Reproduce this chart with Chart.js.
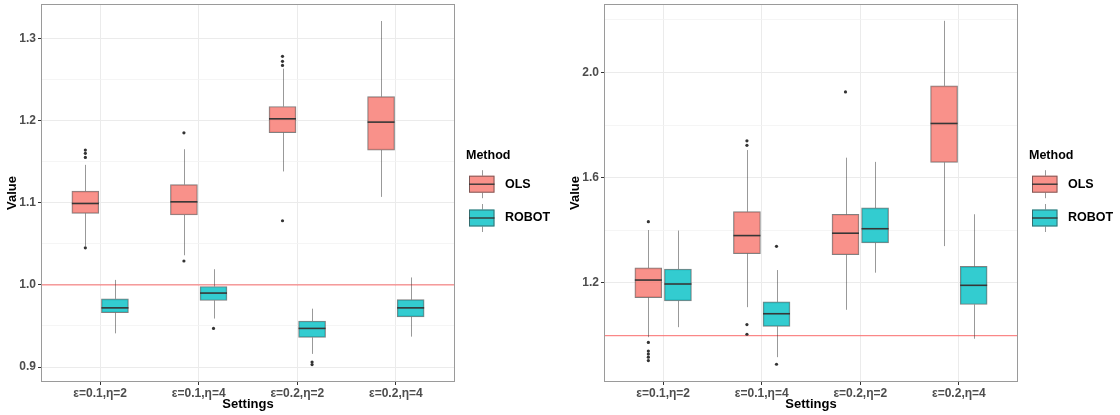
<!DOCTYPE html>
<html><head><meta charset="utf-8">
<script src="https://cdn.jsdelivr.net/npm/chart.js@4.4.1/dist/chart.umd.min.js"></script>
<style>
html,body{margin:0;padding:0;background:#fff;width:1120px;height:415px;overflow:hidden}
.wrap{position:absolute;top:0;height:415px}
canvas{display:block}
</style></head><body>
<div class="wrap" style="left:0;width:560px"><canvas id="c1" width="560" height="415"></canvas></div>
<div class="wrap" style="left:563px;width:557px"><canvas id="c2" width="557" height="415"></canvas></div>
<script>
// ---------- data ----------
const categories = ['ε=0.1,η=2', 'ε=0.1,η=4', 'ε=0.2,η=2', 'ε=0.2,η=4'];
const methods = ['OLS', 'ROBOT'];
const legendTitle = 'Method';
const xTitle = 'Settings';
const yTitle = 'Value';
const referenceValue = 1.0;

// left panel
const leftOLSLow    = [1.047, 1.036, 1.138, 1.107];
const leftOLSQ1     = [1.087, 1.085, 1.185, 1.164];
const leftOLSMedian = [1.099, 1.101, 1.202, 1.198];
const leftOLSQ3     = [1.114, 1.122, 1.217, 1.229];
const leftOLSHigh   = [1.146, 1.165, 1.263, 1.321];
const leftOLSOutliers = [[1.164, 1.160, 1.155, 1.045], [1.185, 1.029], [1.278, 1.272, 1.267, 1.078], []];

const leftROBOTLow    = [0.941, 0.959, 0.916, 0.937];
const leftROBOTQ1     = [0.966, 0.981, 0.936, 0.961];
const leftROBOTMedian = [0.972, 0.990, 0.947, 0.972];
const leftROBOTQ3     = [0.983, 0.998, 0.956, 0.982];
const leftROBOTHigh   = [1.006, 1.019, 0.971, 1.009];
const leftROBOTOutliers = [[], [0.947], [0.906, 0.903], []];

const leftYMin = 0.8818, leftYMax = 1.3417;
const leftMajorTicks = [0.9, 1.0, 1.1, 1.2, 1.3];
const leftMinorTicks = [0.95, 1.05, 1.15, 1.25];

// right panel
const rightOLSLow    = [0.994, 1.108, 1.098, 1.340];
const rightOLSQ1     = [1.144, 1.311, 1.307, 1.658];
const rightOLSMedian = [1.211, 1.380, 1.389, 1.806];
const rightOLSQ3     = [1.257, 1.471, 1.461, 1.949];
const rightOLSHigh   = [1.401, 1.705, 1.676, 2.196];
const rightOLSOutliers = [[1.433, 0.974, 0.941, 0.930, 0.918, 0.905], [1.740, 1.723, 1.042, 1.005], [1.926], []];

const rightROBOTLow    = [1.032, 0.918, 1.239, 0.988];
const rightROBOTQ1     = [1.132, 1.035, 1.352, 1.118];
const rightROBOTMedian = [1.196, 1.083, 1.406, 1.191];
const rightROBOTQ3     = [1.253, 1.128, 1.485, 1.263];
const rightROBOTHigh   = [1.399, 1.249, 1.660, 1.461];
const rightROBOTOutliers = [[], [1.339, 0.891], [], []];

const rightYMin = 0.8236, rightYMax = 2.260;
const rightMajorTicks = [1.2, 1.6, 2.0];
const rightMinorTicks = [1.0, 1.4, 1.8, 2.2];

// ---------- styles ----------
const FONT = "'Liberation Sans', Arial, sans-serif";
const fills = ['rgba(248,118,109,0.8)', 'rgba(0,191,196,0.8)'];
const boxBorder = 'rgba(51,51,51,0.62)';
const whiskerColor = 'rgba(51,51,51,0.5)';
const medianColor = '#363636';
const dodge = [-0.15, 0.15];
const AREA_LEFT = 41, AREA_RIGHT = 455, AREA_TOP = 2, X_AXIS_H = 33;

function isIn(arr, v) { return arr.some(a => Math.abs(a - v) < 1e-6); }

const extrasPlugin = {
  id: 'boxExtras',
  beforeDatasetsDraw(chart) {
    const { ctx, chartArea: ca, scales: { x, y } } = chart;
    ctx.save();
    // reference line
    const ry = y.getPixelForValue(referenceValue);
    ctx.strokeStyle = 'rgba(255,0,0,0.45)';
    ctx.lineWidth = 1.3;
    ctx.beginPath(); ctx.moveTo(ca.left, ry); ctx.lineTo(ca.right, ry); ctx.stroke();
    // whiskers
    ctx.strokeStyle = whiskerColor;
    ctx.lineWidth = 1;
    chart.data.datasets.forEach((ds, di) => {
      if (!ds.stats) return;
      const meta = chart.getDatasetMeta(di);
      meta.data.forEach((bar, i) => {
        const cx = Math.round(bar.x) + 0.5;
        ctx.beginPath();
        ctx.moveTo(cx, y.getPixelForValue(ds.stats.high[i]));
        ctx.lineTo(cx, y.getPixelForValue(ds.stats.q3[i]));
        ctx.moveTo(cx, y.getPixelForValue(ds.stats.q1[i]));
        ctx.lineTo(cx, y.getPixelForValue(ds.stats.low[i]));
        ctx.stroke();
      });
    });
    ctx.restore();
  },
  afterDatasetsDraw(chart) {
    const { ctx, scales: { y } } = chart;
    ctx.save();
    ctx.strokeStyle = medianColor;
    ctx.lineWidth = 1.6;
    chart.data.datasets.forEach((ds, di) => {
      if (!ds.stats) return;
      const meta = chart.getDatasetMeta(di);
      meta.data.forEach((bar, i) => {
        const my = y.getPixelForValue(ds.stats.median[i]);
        ctx.beginPath();
        ctx.moveTo(bar.x - bar.width / 2, my);
        ctx.lineTo(bar.x + bar.width / 2, my);
        ctx.stroke();
      });
    });
    ctx.restore();
  },
  afterDraw(chart) {
    const { ctx, chartArea: ca } = chart;
    ctx.save();
    // panel border
    ctx.strokeStyle = '#9a9a9a';
    ctx.lineWidth = 1;
    ctx.strokeRect(Math.round(ca.left) + 0.5, Math.round(ca.top) + 0.5,
                   Math.round(ca.right - ca.left) - 1, Math.round(ca.bottom - ca.top) - 1);
    // legend
    const lx = ca.right;
    ctx.fillStyle = '#000';
    ctx.textBaseline = 'middle';
    ctx.textAlign = 'left';
    ctx.font = 'bold 12.5px ' + FONT;
    ctx.fillText(legendTitle, lx + 11, 156);
    const keyTops = [175.7, 209.5];
    methods.forEach((m, k) => {
      const top = keyTops[k], h = 17, bx = lx + 14, bw = 25.5;
      const cx = Math.round(bx + bw / 2) + 0.5;
      ctx.strokeStyle = whiskerColor;
      ctx.lineWidth = 1;
      ctx.beginPath();
      ctx.moveTo(cx, top - 5.5); ctx.lineTo(cx, top);
      ctx.moveTo(cx, top + h); ctx.lineTo(cx, top + h + 5.5);
      ctx.stroke();
      ctx.fillStyle = fills[k];
      ctx.fillRect(bx, top, bw, h);
      ctx.strokeStyle = boxBorder;
      ctx.strokeRect(bx + 0.5, top + 0.5, bw - 1, h - 1);
      ctx.strokeStyle = medianColor;
      ctx.lineWidth = 1.4;
      ctx.beginPath(); ctx.moveTo(bx, top + h / 2); ctx.lineTo(bx + bw, top + h / 2); ctx.stroke();
      ctx.fillStyle = '#000';
      ctx.font = 'bold 12.5px ' + FONT;
      ctx.fillText(m, lx + 50, top + h / 2);
    });
    ctx.restore();
  }
};

function makeStats(low, q1, median, q3, high) { return { low, q1, median, q3, high }; }

function buildPanel(canvasId, statsList, outliersList, yMin, yMax, majorTicks, minorTicks) {
  const canvas = document.getElementById(canvasId);
  const W = canvas.width;
  const datasets = [];
  statsList.forEach((s, k) => {
    datasets.push({
      type: 'bar',
      label: methods[k],
      data: categories.map((c, i) => ({ x: i + 1 + dodge[k], y: [s.q1[i], s.q3[i]] })),
      backgroundColor: fills[k],
      borderColor: boxBorder,
      borderWidth: 1,
      borderSkipped: false,
      barThickness: 27,
      grouped: false,
      stats: s
    });
  });
  outliersList.forEach((outs, k) => {
    const pts = [];
    outs.forEach((arr, i) => arr.forEach(v => pts.push({ x: i + 1 + dodge[k], y: v })));
    datasets.push({
      type: 'scatter',
      label: methods[k] + ' outliers',
      data: pts,
      pointRadius: 1.6,
      pointBackgroundColor: '#333',
      pointBorderWidth: 0,
      showLine: false
    });
  });
  const allY = majorTicks.concat(minorTicks).sort((a, b) => a - b);
  return new Chart(canvas, {
    type: 'bar',
    data: { datasets },
    options: {
      responsive: false,
      animation: false,
      events: [],
      layout: { padding: { left: 0, top: AREA_TOP, right: W - AREA_RIGHT, bottom: 0 } },
      plugins: { legend: { display: false }, tooltip: { enabled: false } },
      scales: {
        x: {
          type: 'linear',
          offset: false,
          min: 0.4, max: 4.6,
          afterFit(s) { s.height = X_AXIS_H; s.paddingLeft = 0; s.paddingRight = 0; },
          afterBuildTicks(s) { s.ticks = categories.map((c, i) => ({ value: i + 1 })); },
          ticks: {
            autoSkip: false, maxRotation: 0, padding: 1,
            color: '#4d4d4d',
            font: { family: FONT, size: 12, weight: 'bold' },
            callback: v => categories[Math.round(v) - 1]
          },
          grid: { offset: false, color: '#ebebeb', lineWidth: 1, tickColor: '#333', tickLength: 3 },
          border: { display: false },
          title: {
            display: true, text: xTitle, color: '#000',
            font: { family: FONT, size: 13, weight: 'bold' },
            padding: { top: 0, bottom: 3 }
          }
        },
        y: {
          type: 'linear',
          min: yMin, max: yMax,
          afterFit(s) { s.width = AREA_LEFT; s.paddingTop = 0; s.paddingBottom = 0; },
          afterBuildTicks(s) { s.ticks = allY.map(v => ({ value: v })); },
          ticks: {
            autoSkip: false, padding: 2,
            color: '#4d4d4d',
            font: { family: FONT, size: 12, weight: 'bold' },
            callback: v => isIn(majorTicks, v) ? v.toFixed(1) : ''
          },
          grid: {
            color: c => isIn(majorTicks, c.tick.value) ? '#ebebeb' : '#f3f3f3',
            lineWidth: c => isIn(majorTicks, c.tick.value) ? 1 : 0.8,
            tickColor: c => isIn(majorTicks, c.tick.value) ? '#333' : 'rgba(0,0,0,0)',
            tickLength: 3
          },
          border: { display: false },
          title: {
            display: true, text: yTitle, color: '#000',
            font: { family: FONT, size: 13, weight: 'bold' },
            padding: { top: 5, bottom: 0 }
          }
        }
      }
    },
    plugins: [extrasPlugin]
  });
}

buildPanel('c1',
  [makeStats(leftOLSLow, leftOLSQ1, leftOLSMedian, leftOLSQ3, leftOLSHigh),
   makeStats(leftROBOTLow, leftROBOTQ1, leftROBOTMedian, leftROBOTQ3, leftROBOTHigh)],
  [leftOLSOutliers, leftROBOTOutliers],
  leftYMin, leftYMax, leftMajorTicks, leftMinorTicks);

buildPanel('c2',
  [makeStats(rightOLSLow, rightOLSQ1, rightOLSMedian, rightOLSQ3, rightOLSHigh),
   makeStats(rightROBOTLow, rightROBOTQ1, rightROBOTMedian, rightROBOTQ3, rightROBOTHigh)],
  [rightOLSOutliers, rightROBOTOutliers],
  rightYMin, rightYMax, rightMajorTicks, rightMinorTicks);
</script>
</body></html>
